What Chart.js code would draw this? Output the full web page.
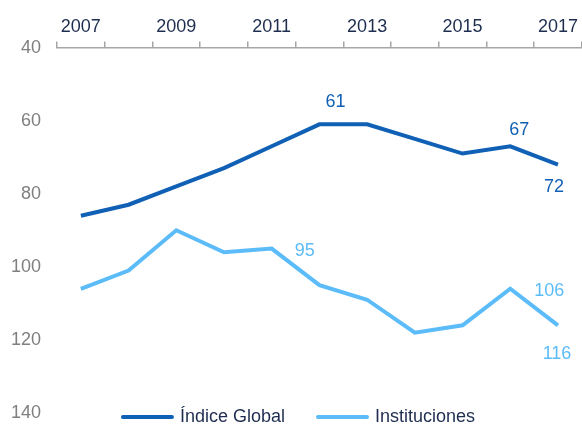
<!DOCTYPE html>
<html>
<head>
<meta charset="utf-8">
<script src="https://cdn.jsdelivr.net/npm/chart.js@4/dist/chart.umd.min.js"></script>
<style>
html,body{margin:0;padding:0;background:#fff;}
#c{display:block;}
</style>
</head>
<body>
<canvas id="c" width="582" height="428"></canvas>
<script>
const years = ['2007','2008','2009','2010','2011','2012','2013','2014','2015','2016','2017'];
const indiceGlobal = [86, 83, 78, 73, 67, 61, 61, 65, 69, 67, 72];
const instituciones = [106, 101, 90, 96, 95, 105, 109, 118, 116, 106, 116];
const yTicks = [40, 60, 80, 100, 120, 140];
const seriesNames = ['Índice Global', 'Instituciones'];

const C_GLOBAL = '#1060b6';
const C_INST = '#5bbcf9';
const FONT = 'Liberation Sans, Arial, sans-serif';

// which points carry a value label, and where it sits relative to the point
const labelSpecs = [
  {ds: 0, i: 5, dx: 16, dy: -22},
  {ds: 0, i: 9, dx: 9, dy: -16},
  {ds: 0, i: 10, dx: -4, dy: 23},
  {ds: 1, i: 4, dx: 33, dy: 2},
  {ds: 1, i: 9, dx: 39, dy: 2},
  {ds: 1, i: 10, dx: -1, dy: 29}
];

const valueLabels = {
  id: 'valueLabels',
  afterDatasetsDraw(chart) {
    const ctx = chart.ctx;
    ctx.save();
    ctx.font = '18px ' + FONT;
    ctx.textAlign = 'center';
    ctx.textBaseline = 'middle';
    labelSpecs.forEach(s => {
      const ds = chart.data.datasets[s.ds];
      const el = chart.getDatasetMeta(s.ds).data[s.i];
      ctx.fillStyle = ds.borderColor;
      ctx.fillText(String(ds.data[s.i]), el.x + s.dx, el.y + s.dy);
    });
    ctx.restore();
  }
};

const customLegend = {
  id: 'customLegend',
  afterDraw(chart) {
    const ctx = chart.ctx;
    ctx.save();
    ctx.font = '18px ' + FONT;
    ctx.textBaseline = 'middle';
    ctx.textAlign = 'left';
    const lineLen = 53, gapLT = 6, gapItems = 31;
    const items = chart.data.datasets.map(d => ({label: d.label, color: d.borderColor, w: ctx.measureText(d.label).width}));
    let total = 0;
    items.forEach((it, k) => { total += lineLen + gapLT + it.w + (k ? gapItems : 0); });
    let x = 298 - total / 2;
    const y = 417;
    items.forEach((it, k) => {
      if (k) x += gapItems;
      ctx.strokeStyle = it.color;
      ctx.lineWidth = 4;
      ctx.lineCap = 'round';
      ctx.beginPath();
      ctx.moveTo(x + 2, y);
      ctx.lineTo(x + lineLen - 2, y);
      ctx.stroke();
      x += lineLen + gapLT;
      ctx.fillStyle = '#1e2d4f';
      ctx.fillText(it.label, x, y);
      x += it.w;
    });
    ctx.restore();
  }
};

new Chart(document.getElementById('c'), {
  type: 'line',
  data: {
    labels: years,
    datasets: [
      {label: seriesNames[0], data: indiceGlobal, borderColor: C_GLOBAL, backgroundColor: C_GLOBAL, borderWidth: 4, pointRadius: 0, tension: 0, fill: false},
      {label: seriesNames[1], data: instituciones, borderColor: C_INST, backgroundColor: C_INST, borderWidth: 4, pointRadius: 0, tension: 0, fill: false}
    ]
  },
  options: {
    responsive: false,
    animation: false,
    devicePixelRatio: 1,
    layout: {padding: {top: 12, bottom: 15, right: 0, left: 0}},
    plugins: {legend: {display: false}, tooltip: {enabled: false}},
    scales: {
      x: {
        position: 'top',
        offset: true,
        grid: {display: true, drawOnChartArea: false, drawTicks: true, tickLength: 6, offset: true, color: '#a6a6a6', lineWidth: 1.5},
        border: {display: true, color: '#a6a6a6', width: 1.5},
        ticks: {
          autoSkip: false, maxRotation: 0, padding: 4,
          color: '#1e2d4f', font: {family: FONT, size: 18},
          callback: function(v, i) { return i % 2 === 0 ? years[i] : ''; }
        }
      },
      y: {
        reverse: true,
        min: yTicks[0], max: yTicks[yTicks.length - 1],
        afterBuildTicks: axis => { axis.ticks = yTicks.map(v => ({value: v})); },
        afterFit: axis => { axis.width = 57; axis.paddingBottom = 0; axis.paddingTop = 0; },
        grid: {display: false, drawTicks: false},
        border: {display: false},
        ticks: {padding: 16, color: '#7f7f7f', font: {family: FONT, size: 18}}
      }
    }
  },
  plugins: [valueLabels, customLegend]
});
</script>
</body>
</html>
